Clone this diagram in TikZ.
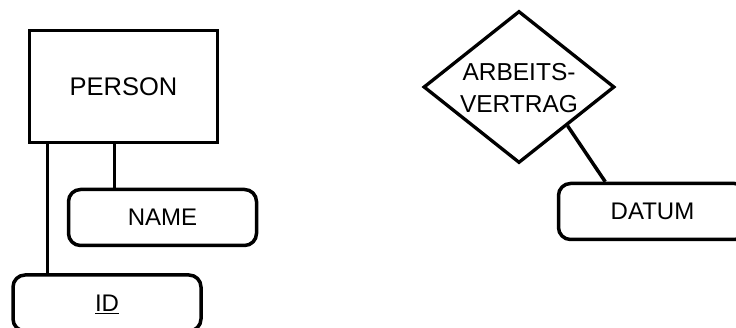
\documentclass[tikz,border=0pt]{standalone}
\usepackage{fontspec}
\setmainfont{Liberation Sans}
\usetikzlibrary{shapes.geometric}
\tikzset{
  ent/.style={draw, line width=3.5pt, rectangle, minimum width=188pt, minimum height=112pt, inner sep=0pt, font=\fontsize{25.5}{30}\selectfont, text height=18pt, text depth=0pt},
  attr/.style={draw, line width=3.5pt, rectangle, rounded corners=12pt, minimum width=188pt, minimum height=56pt, inner sep=0pt, font=\fontsize{24}{30}\selectfont, text height=17pt, text depth=0pt},
  rel/.style={draw, line width=3.3pt, diamond, minimum width=191pt, minimum height=152pt, inner sep=0pt},
  reltext/.style={align=center, inner sep=0pt, font=\fontsize{24.5}{31.5}\selectfont},
  conn/.style={line width=3.5pt}
}
\begin{document}
\begin{tikzpicture}[x=1pt,y=-1pt]
\useasboundingbox (0,0) rectangle (736,328);
\clip (0,0) rectangle (736,328);
\node[ent] (person) at (123.5,86.5) {PERSON};
\node[attr] (name) at (162.5,217.5) {NAME};
\node[attr] (id) at (107,303) {\underline{ID}};
\node[rel] (vertrag) at (519,87) {};
\node[reltext] (vertragtext) at (519,88) {ARBEITS-\\VERTRAG};
\node[attr] (datum) at (652.5,211.5) {DATUM};
\draw[conn] ([xshift=19.5pt]person.south west) -- ([xshift=19.5pt]person.south west |- id.north);
\draw[conn] ([xshift=86.5pt]person.south west) -- ([xshift=86.5pt]person.south west |- name.north);
\draw[conn] (vertrag.south east) -- ([xshift=48.5pt]datum.north west);
\end{tikzpicture}
\end{document}
